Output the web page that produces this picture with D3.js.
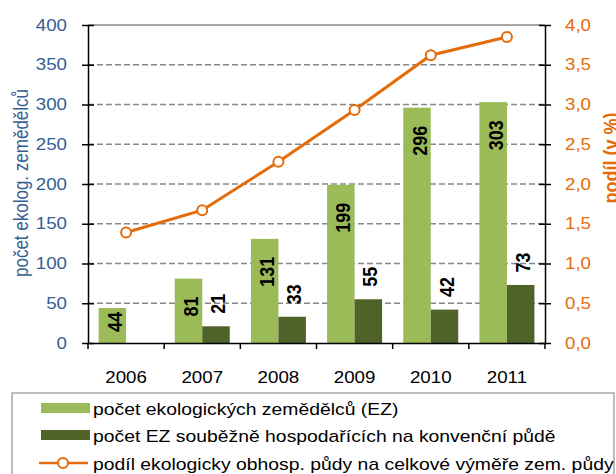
<!DOCTYPE html>
<html>
<head>
<meta charset="utf-8">
<script src="https://cdn.jsdelivr.net/npm/d3@7"></script>
<style>
  body { margin: 0; background: #fff; }
  svg { display: block; font-family: Arial, "Liberation Sans", sans-serif; }
</style>
</head>
<body>
<svg id="chart" width="616" height="474"></svg>
<script>
const years = ['2006', '2007', '2008', '2009', '2010', '2011'];
const farmers = [44, 81, 131, 199, 296, 303];
const concurrent = [null, 21, 33, 55, 42, 73];
const share = [1.39, 1.67, 2.28, 2.93, 3.62, 3.85];
const leftTicks = [0, 50, 100, 150, 200, 250, 300, 350, 400];
const rightTicks = [0, 0.5, 1, 1.5, 2, 2.5, 3, 3.5, 4];
const legendLabels = [
  'počet ekologických zemědělců (EZ)',
  'počet EZ souběžně hospodařících na konvenční půdě',
  'podíl ekologicky obhosp. půdy na celkové výměře zem. půdy'
];

const lightGreen = '#9bbb59', darkGreen = '#4f6228', orange = '#e46c0a', blue = '#366092';
const SX = 1.17; // text in the picture is a bit wider than plain Arial
const m = {l: 88, r: 545, t: 25, b: 343};

const svg = d3.select('#chart');

const x = d3.scaleBand().domain(years).range([m.l, m.r]);
const xb = d3.scaleBand().domain(['eko', 'konv']).range([0, x.bandwidth()])
  .paddingInner(0).paddingOuter(0.385);
const yL = d3.scaleLinear().domain([0, 400]).range([m.b, m.t]);
const yR = d3.scaleLinear().domain([0, 4]).range([m.b, m.t]);

// gridlines
svg.append('g').selectAll('line')
  .data(leftTicks.filter(d => d > 0))
  .join('line')
  .attr('x1', m.l).attr('x2', m.r)
  .attr('y1', d => yL(d)).attr('y2', d => yL(d))
  .attr('stroke', '#888')
  .attr('stroke-width', 1.5)
  .attr('stroke-dasharray', d => d === 400 ? null : '6,3');

// bars
const rows = years.map((y, i) => ({year: y, eko: farmers[i], konv: concurrent[i]}));

svg.append('g').selectAll('rect')
  .data(rows)
  .join('rect')
  .attr('x', d => x(d.year) + xb('eko'))
  .attr('y', d => yL(d.eko))
  .attr('width', xb.bandwidth())
  .attr('height', d => yL(0) - yL(d.eko))
  .attr('fill', lightGreen);

svg.append('g').selectAll('rect')
  .data(rows.filter(d => d.konv != null))
  .join('rect')
  .attr('x', d => x(d.year) + xb('konv'))
  .attr('y', d => yL(d.konv))
  .attr('width', xb.bandwidth())
  .attr('height', d => yL(0) - yL(d.konv))
  .attr('fill', darkGreen);

// value labels, rotated
function rotLabel(g, cx, y, anchor, txt) {
  return g.append('text')
    .attr('transform', `translate(${cx},${y}) scale(${SX},1) rotate(-90)`)
    .attr('text-anchor', anchor)
    .attr('dy', '0.36em')
    .attr('font-size', 18)
    .attr('font-weight', 'bold')
    .attr('fill', '#000')
    .text(txt);
}
const labG = svg.append('g');
rows.forEach(d => {
  const cx = x(d.year) + xb('eko') + xb.bandwidth() / 2 + 2;
  const t = rotLabel(labG, cx, 0, 'end', d.eko);
  const len = t.node().getComputedTextLength();
  const top = Math.min(yL(d.eko) + 18, yL(0) - 11 - len);
  t.attr('transform', `translate(${cx},${top}) scale(${SX},1) rotate(-90)`);
  if (d.konv != null) {
    const cx2 = x(d.year) + xb('konv') + xb.bandwidth() / 2 + 1.5;
    rotLabel(labG, cx2, yL(d.konv) - 12.5, 'start', d.konv);
  }
});

// line series
const pts = years.map((y, i) => [x(y) + x.bandwidth() / 2, yR(share[i])]);
svg.append('path')
  .attr('d', d3.line()(pts))
  .attr('fill', 'none')
  .attr('stroke', orange)
  .attr('stroke-width', 3);
svg.append('g').selectAll('circle')
  .data(pts)
  .join('circle')
  .attr('cx', d => d[0]).attr('cy', d => d[1])
  .attr('r', 5)
  .attr('fill', '#fff')
  .attr('stroke', orange)
  .attr('stroke-width', 2);

// left axis
const axL = svg.append('g')
  .attr('transform', `translate(${m.l},0)`)
  .call(d3.axisLeft(yL).tickValues(leftTicks).tickSizeOuter(0).tickPadding(0));
axL.select('.domain').attr('stroke', '#000').attr('stroke-width', 1.5);
axL.selectAll('.tick line').attr('x1', -6).attr('x2', 6).attr('stroke', '#000').attr('stroke-width', 1.5);
axL.selectAll('.tick text')
  .attr('x', -21 / SX)
  .attr('transform', `scale(${SX},1)`)
  .attr('font-size', 16)
  .attr('font-family', 'Arial, "Liberation Sans", sans-serif')
  .attr('fill', blue);

// right axis
const axR = svg.append('g')
  .attr('transform', `translate(${m.r},0)`)
  .call(d3.axisRight(yR).tickValues(rightTicks).tickSizeOuter(0)
    .tickFormat(d => d.toFixed(1).replace('.', ',')));
axR.select('.domain').attr('stroke', '#000').attr('stroke-width', 1.5);
axR.selectAll('.tick line').attr('x1', -6).attr('x2', 6).attr('stroke', '#000').attr('stroke-width', 1.5);
axR.selectAll('.tick text')
  .attr('x', 20 / SX)
  .attr('transform', `scale(${SX},1)`)
  .attr('font-size', 16)
  .attr('font-family', 'Arial, "Liberation Sans", sans-serif')
  .attr('fill', orange);

// bottom axis
const axB = svg.append('g')
  .attr('transform', `translate(0,${m.b})`)
  .call(d3.axisBottom(x).tickSize(0).tickSizeOuter(0));
axB.select('.domain').attr('stroke', '#000').attr('stroke-width', 1.5);
axB.selectAll('.tick text')
  .attr('y', 34)
  .attr('dy', '0.35em')
  .attr('x', 0)
  .attr('transform', `scale(${SX},1)`)
  .attr('font-size', 16)
  .attr('font-family', 'Arial, "Liberation Sans", sans-serif')
  .attr('fill', '#000');
svg.append('g').selectAll('line')
  .data(years.concat(['end']))
  .join('line')
  .attr('x1', d => d === 'end' ? m.r : x(d)).attr('x2', d => d === 'end' ? m.r : x(d))
  .attr('y1', m.b).attr('y2', m.b + 6)
  .attr('stroke', '#000').attr('stroke-width', 1.5);

// axis titles
svg.append('text')
  .attr('transform', `translate(28,183) scale(${SX},1) rotate(-90)`)
  .attr('text-anchor', 'middle')
  .attr('font-size', 17)
  .attr('fill', blue)
  .text('počet ekolog. zemědělců');
svg.append('text')
  .attr('transform', `translate(618,158) scale(${SX},1) rotate(-90)`)
  .attr('text-anchor', 'middle')
  .attr('font-size', 18)
  .attr('font-weight', 'bold')
  .attr('fill', orange)
  .text('podíl (v %)');

// legend
const legSX = 1.21;
const leg = svg.append('g');
leg.append('rect')
  .attr('x', 12).attr('y', 393)
  .attr('width', 602).attr('height', 100)
  .attr('fill', '#fff')
  .attr('stroke', '#a6a6a6').attr('stroke-width', 1.5);
const legY = [408, 435, 463];
leg.append('rect').attr('x', 41).attr('y', legY[0] - 5).attr('width', 49).attr('height', 10).attr('fill', lightGreen);
leg.append('rect').attr('x', 41).attr('y', legY[1] - 5).attr('width', 49).attr('height', 10).attr('fill', darkGreen);
leg.append('line')
  .attr('x1', 39).attr('x2', 88).attr('y1', legY[2]).attr('y2', legY[2])
  .attr('stroke', orange).attr('stroke-width', 2.5);
leg.append('circle')
  .attr('cx', 63).attr('cy', legY[2]).attr('r', 5)
  .attr('fill', '#fff').attr('stroke', orange).attr('stroke-width', 2);
leg.selectAll('text.legText')
  .data(legendLabels)
  .join('text')
  .attr('class', 'legText')
  .attr('transform', (d, i) => `translate(93,${legY[i] + 1}) scale(${legSX},1)`)
  .attr('dy', '0.35em')
  .attr('font-size', 16)
  .attr('fill', '#000')
  .text(d => d);
</script>
</body>
</html>
